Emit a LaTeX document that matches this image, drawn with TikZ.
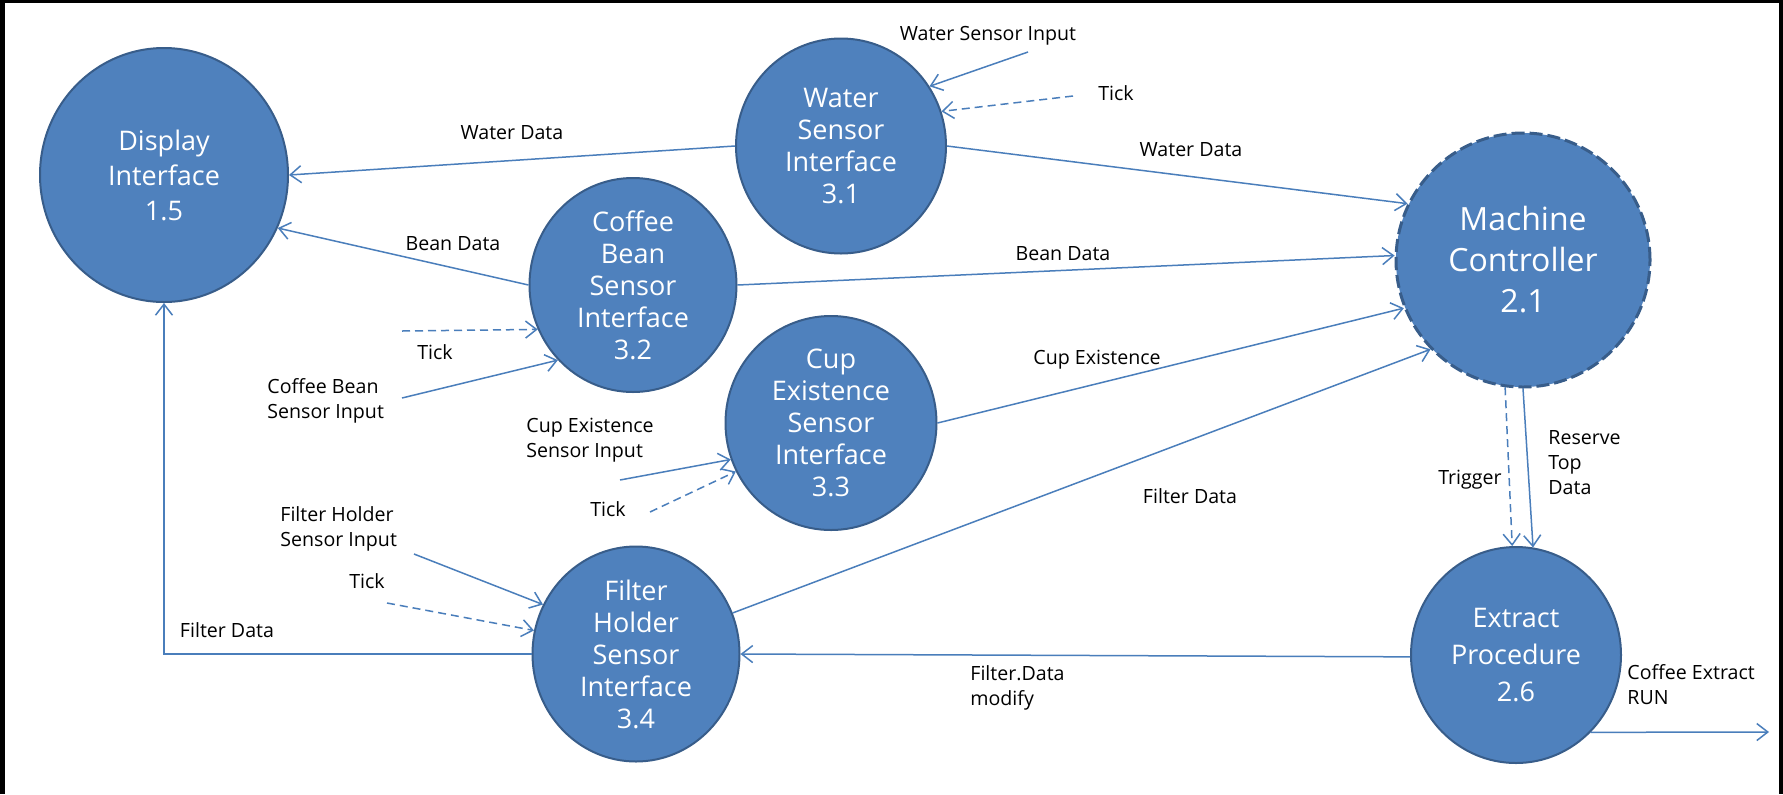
\documentclass[tikz,border=0pt]{standalone}
\usepackage{fontspec}
\setmainfont{Open Sans}
\usetikzlibrary{shapes.geometric,arrows.meta}
\definecolor{pfill}{HTML}{4F81BD}
\definecolor{pdraw}{HTML}{385D8A}
\definecolor{flow}{HTML}{4A7EBB}
\begin{document}
\begin{tikzpicture}[x=0.5pt,y=-0.5pt,
  proc/.style={ellipse, draw=pdraw, line width=1pt, fill=pfill, inner sep=0pt},
  ptext/.style={text=white, font=\fontsize{13.5}{16}\selectfont, align=center, inner sep=0pt},
  lbl/.style={font=\fontsize{9.8}{12.5}\selectfont, align=left, inner sep=0pt},
  flowline/.style={draw=flow, line width=0.75pt, -{Straight Barb[length=5.5pt,width=8.5pt]}},
  tickline/.style={flowline, dash pattern=on 4pt off 2.5pt}]
\useasboundingbox (0,0) rectangle (1783,794);
\fill[white] (0,0) rectangle (1783,794);
\fill[black] (0,0) rectangle (1783,3);
\fill[black] (0,0) rectangle (5,794);
\fill[black] (1779,0) rectangle (1783,794);

% processes
\node[proc, minimum width=124pt, minimum height=127pt,
  label={[ptext, font=\fontsize{13.5}{17.5}\selectfont]center:{Display\\Interface\\1.5}}] (disp) at (164,175) {};
\node[proc, minimum width=105pt, minimum height=107.5pt,
  label={[ptext]center:{Water\\Sensor\\Interface\\3.1}}] (water) at (841,146) {};
\node[proc, minimum width=103.5pt, minimum height=107pt,
  label={[ptext]center:{Coffee\\Bean\\Sensor\\Interface\\3.2}}] (bean) at (633,285) {};
\node[proc, minimum width=105.5pt, minimum height=107pt,
  label={[ptext]center:{Cup\\Existence\\Sensor\\Interface\\3.3}}] (cup) at (831,423) {};
\node[proc, minimum width=103.5pt, minimum height=107.5pt,
  label={[ptext]center:{Filter\\Holder\\Sensor\\Interface\\3.4}}] (filt) at (636,654) {};
\node[proc, line width=1.5pt, dash pattern=on 6.5pt off 2.5pt, minimum width=127pt, minimum height=127pt,
  label={[ptext, font=\fontsize{16}{20.5}\selectfont]center:{Machine\\Controller\\2.1}}] (mach) at (1523,260) {};
\node[proc, minimum width=105pt, minimum height=108pt,
  label={[ptext, font=\fontsize{13.5}{18.5}\selectfont]center:{Extract\\Procedure\\2.6}}] (extr) at (1516,655) {};

% free ends
\coordinate (wsi) at (1028,52);
\coordinate (wtick) at (1073,96);
\coordinate (btick) at (402,331);
\coordinate (bin) at (402,398);
\coordinate (cin) at (620,480);
\coordinate (ctick) at (650,512);
\coordinate (fin) at (414,554);
\coordinate (ftick) at (387,603);
\coordinate (out) at (1769,732);

% flows
\draw[flowline] (water.180) -- (disp.0);
\draw[flowline] (bean.180) -- (disp.-25);
\draw[flowline] (filt.180) -| (disp.270);
\draw[flowline] (water.0) -- (mach.154);
\draw[flowline] (bean.0) -- (mach.178.6);
\draw[flowline] (cup.0) -- (mach.202);
\draw[flowline] (filt.23) -- (mach.224);
\draw[flowline] (extr.181) -- (filt.0);
\draw[tickline] (mach.262) -- (extr.92);
\draw[flowline] (mach.270) -- (extr.81);
\draw[flowline] (extr.314) -- (out);
\draw[flowline] (wsi) -- (water.34);
\draw[tickline] (wtick) -- (water.19);
\draw[tickline] (btick) -- (bean.205);
\draw[flowline] (bin) -- (bean.225);
\draw[flowline] (cin) -- (cup.200);
\draw[tickline] (ctick) -- (cup.207);
\draw[flowline] (fin) -- (filt.152);
\draw[tickline] (ftick) -- (filt.167);

% labels
\node[lbl] (l1) at (988,36) {Water Sensor Input};
\node[lbl] (l2) at (1116,93) {Tick};
\node[lbl] (l3) at (512,133) {Water Data};
\node[lbl] (l4) at (1191,150) {Water Data};
\node[lbl] (l5) at (453,244) {Bean Data};
\node[lbl] (l6) at (1063,254) {Bean Data};
\node[lbl] (l7) at (435,352) {Tick};
\node[lbl, anchor=west] (l8) at (267,401) {Coffee Bean\\Sensor Input};
\node[lbl, anchor=west] (l9) at (526,440) {Cup Existence\\Sensor Input};
\node[lbl] (l10) at (608,509) {Tick};
\node[lbl] (l11) at (1097,360) {Cup Existence};
\node[lbl, anchor=west] (l12) at (280,529) {Filter Holder\\Sensor Input};
\node[lbl] (l13) at (367,581) {Tick};
\node[lbl] (l14) at (227,630) {Filter Data};
\node[lbl] (l15) at (1190,496) {Filter Data};
\node[lbl, anchor=west] (l16) at (970,688) {Filter.Data\\modify};
\node[lbl] (l17) at (1470,480) {Trigger};
\node[lbl, anchor=west] (l18) at (1548,463) {Reserve\\Top\\Data};
\node[lbl, anchor=west] (l19) at (1627,685) {Coffee Extract\\RUN};
\end{tikzpicture}
\end{document}
